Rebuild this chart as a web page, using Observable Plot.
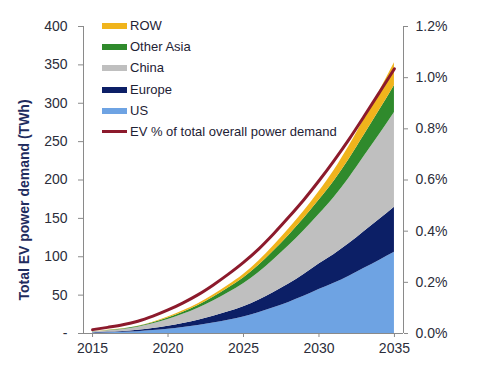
<!DOCTYPE html>
<html>
<head>
<meta charset="utf-8">
<script src="https://cdn.jsdelivr.net/npm/d3@7"></script>
<script src="https://cdn.jsdelivr.net/npm/@observablehq/plot@0.6"></script>
<style>
  html, body { margin: 0; padding: 0; background: #fff; }
  #wrap { position: relative; width: 480px; height: 370px; font-family: "Liberation Sans", Arial, sans-serif; }
  #legend { position: absolute; left: 102px; top: 17px; font-size: 13px; color: #1e2235; }
  .row { position: relative; height: 21.2px; line-height: 18px; white-space: nowrap; }
  .sw { position: absolute; left: 0; top: 6px; width: 25px; height: 6px; }
  .sw.line { top: 7px; height: 3.5px; }
  .lb { position: absolute; left: 28px; top: 0; }
</style>
</head>
<body>
<div id="wrap"><div id="legend"></div></div>
<script>
// ---- data ----
const years = [2015,2016,2017,2018,2019,2020,2021,2022,2023,2024,2025,2026,2027,2028,2029,2030,2031,2032,2033,2034,2035];
const us        = [0.6,1.0,1.6,2.4,3.8,5.6,7.8,10.4,13.7,17.4,21.6,27.0,33.4,40.5,48.4,57.2,65.4,74.7,84.9,95.2,105.8];
const europe    = [0.5,0.8,1.1,1.8,2.7,3.9,5.3,6.9,8.8,10.8,13.1,16.2,19.9,23.9,28.4,33.2,37.6,42.5,48.1,53.3,58.6];
const china     = [1.0,1.7,2.5,3.9,6.1,8.8,12.0,15.6,20.0,24.8,30.0,36.0,42.8,49.8,57.0,64.6,74.3,85.5,97.8,110.4,123.5];
const otherAsia = [0.2,0.4,0.6,0.9,1.3,1.9,2.7,3.7,4.8,6.2,7.7,9.4,11.4,13.6,15.9,18.5,21.2,24.4,27.9,31.5,35.3];
const rowWorld  = [0.1,0.2,0.3,0.5,0.9,1.3,1.8,2.3,3.0,3.8,4.6,5.7,6.9,8.2,9.6,11.1,13.8,17.1,20.7,24.9,29.6];
const evShare   = [0.015,0.024,0.034,0.048,0.068,0.092,0.12,0.152,0.19,0.232,0.278,0.33,0.39,0.455,0.523,0.597,0.676,0.76,0.85,0.942,1.035]; // % of total power demand

const seriesNames = ["US","Europe","China","Other Asia","ROW"];
const seriesColors = ["#6ea3e3","#0c1f66","#bfbfbf","#2f8a2c","#f0b41c"];
const lineName = "EV % of total overall power demand";
const lineColor = "#8c1a2c";

const xTicks = [2015,2020,2025,2030,2035];
const yTicks = [0,50,100,150,200,250,300,350,400];
const pctTicks = [0,0.2,0.4,0.6,0.8,1.0,1.2];
const yTitle = "Total EV power demand (TWh)";

// ---- build ----
const yMax = 400, pctMax = 1.2;
const xDomain = [2014.4, 2035.6];
const seriesValues = [us, europe, china, otherAsia, rowWorld];
const long = [];
seriesNames.forEach((name, s) => years.forEach((yr, i) => long.push({year: yr, region: name, value: seriesValues[s][i]})));
const lineData = years.map((yr, i) => ({year: yr, pct: evShare[i]}));
const toLeft = p => p / pctMax * yMax;

const chart = Plot.plot({
  width: 480, height: 370,
  marginLeft: 83, marginRight: 77, marginTop: 26, marginBottom: 37,
  style: {fontFamily: '"Liberation Sans", Arial, sans-serif', fontSize: "14px", background: "white", color: "#2b2d3a"},
  x: {domain: xDomain},
  y: {domain: [0, yMax]},
  color: {domain: seriesNames, range: seriesColors},
  marks: [
    Plot.areaY(long, {x: "year", y: "value", fill: "region", curve: "monotone-x"}),
    Plot.lineY(lineData, {x: "year", y: d => toLeft(d.pct), stroke: lineColor, strokeWidth: 3, curve: "monotone-x"}),
    Plot.ruleX([xDomain[0], xDomain[1]], {stroke: "#8a8a8a", strokeWidth: 1}),
    Plot.ruleY([0], {stroke: "#8a8a8a", strokeWidth: 1}),
    Plot.axisY({ticks: yTicks, tickFormat: d => d === 0 ? "-" : String(d), tickSize: 5, tickPadding: 11, label: null, stroke: "#8a8a8a", color: "#2b2d3a"}),
    Plot.axisY({anchor: "right", ticks: pctTicks.map(toLeft), tickFormat: d => (d / yMax * pctMax).toFixed(1) + "%", tickSize: 4, tickPadding: 8, label: null, stroke: "#8a8a8a", color: "#2b2d3a"}),
    Plot.axisX({ticks: xTicks, tickFormat: d => String(d), tickSize: 4, tickPadding: 6, label: null, stroke: "#8a8a8a", color: "#2b2d3a"}),
    Plot.text([yTitle], {frameAnchor: "left", textAnchor: "middle", rotate: -90, dx: -59, dy: 20, fontWeight: "bold", fontSize: 14, fill: "#1f2c5e"})
  ]
});
document.getElementById("wrap").prepend(chart);

// ---- legend (HTML overlay) ----
const legend = document.getElementById("legend");
const items = seriesNames.map((n, i) => ({name: n, color: seriesColors[i], line: false})).reverse();
items.push({name: lineName, color: lineColor, line: true});
for (const it of items) {
  const r = document.createElement("div");
  r.className = "row";
  const sw = document.createElement("div");
  sw.className = "sw" + (it.line ? " line" : "");
  sw.style.background = it.color;
  const lb = document.createElement("div");
  lb.className = "lb";
  lb.textContent = it.name;
  r.append(sw, lb);
  legend.append(r);
}
</script>
</body>
</html>
